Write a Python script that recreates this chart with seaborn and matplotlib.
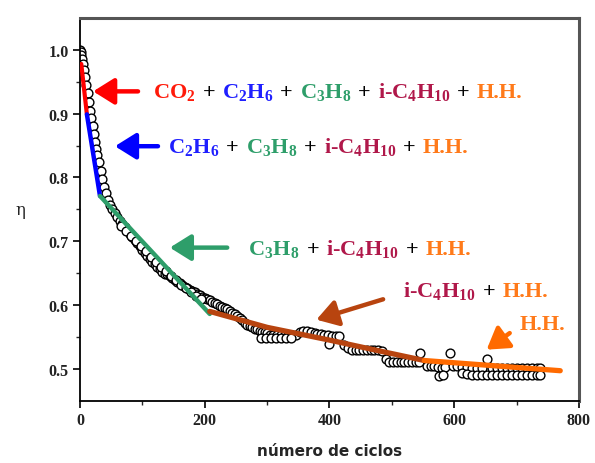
import numpy as np
import pandas as pd
import matplotlib
matplotlib.use("Agg")
import matplotlib.pyplot as plt
import seaborn as sns
from matplotlib.offsetbox import TextArea, HPacker, AnnotationBbox

# ---------------- data ----------------
cycles = [0, 1, 2, 3, 4, 6, 8, 10, 12, 14, 16, 18, 20, 22, 24, 26, 28, 30, 33, 36, 39, 42, 45, 48,
          52, 56, 60, 64, 68, 72, 76, 80, 84, 88, 92, 96, 100, 104, 108, 112, 116, 120, 124, 128,
          132, 136, 140, 144, 148, 152, 156, 160, 164, 168, 172, 176, 180, 184, 188, 192, 196, 200,
          204, 208, 212, 216, 220, 224, 228, 232, 236, 240, 244, 248, 252, 256, 260, 264, 268, 272,
          276, 280, 284, 288, 292, 296, 300, 304, 310, 316, 322, 328, 334, 340, 346,
          290, 298, 306, 314, 322, 330, 338, 352, 358, 364, 370, 376,
          380, 386, 392, 398, 404, 410, 416, 400, 424, 430, 436, 442, 448, 454, 460, 466, 472, 478,
          484, 490, 496, 502, 508, 514, 520, 526, 532, 538, 544, 545,
          556, 562, 568, 574, 580, 586, 598, 604, 612, 620, 628, 636, 644, 660, 668, 676, 684, 692,
          700, 708, 716, 724, 732, 738,
          576, 582, 612, 620, 628, 636, 644, 652, 660, 668, 676, 684, 692, 700, 708, 716, 724, 732, 738,
          593, 652,
          66, 74, 82, 90, 98, 106, 114, 122, 130, 138, 146, 154, 162, 170, 178, 186, 194]
eta = [1.000, 0.997, 0.992, 0.985, 0.978, 0.968, 0.958, 0.945, 0.932, 0.918, 0.905, 0.893, 0.880,
       0.868, 0.856, 0.845, 0.835, 0.825, 0.810, 0.797, 0.785, 0.775, 0.765, 0.757,
       0.750, 0.744, 0.738, 0.732, 0.727, 0.722, 0.717, 0.712, 0.707, 0.702, 0.697, 0.692, 0.687,
       0.682, 0.677, 0.672, 0.668, 0.664, 0.660, 0.656, 0.652, 0.648, 0.648, 0.645, 0.642, 0.639,
       0.636, 0.634, 0.631, 0.629, 0.626, 0.624, 0.622, 0.620, 0.618, 0.616, 0.613, 0.611,
       0.610, 0.608, 0.605, 0.603, 0.601, 0.599, 0.597, 0.595, 0.593, 0.591, 0.588, 0.586, 0.583,
       0.580, 0.576, 0.572, 0.569, 0.567, 0.565, 0.563, 0.562, 0.560, 0.558, 0.557, 0.556,
       0.553, 0.553, 0.553, 0.553, 0.553, 0.553, 0.553, 0.553,
       0.548, 0.548, 0.548, 0.548, 0.548, 0.548, 0.548, 0.557, 0.560, 0.560, 0.558, 0.556,
       0.554, 0.554, 0.553, 0.553, 0.552, 0.552, 0.551, 0.539, 0.538, 0.532, 0.530, 0.530, 0.530,
       0.530, 0.530, 0.530, 0.530, 0.530, 0.528, 0.515, 0.511, 0.510, 0.510, 0.510, 0.510, 0.510,
       0.510, 0.510, 0.510, 0.524,
       0.505, 0.504, 0.504, 0.503, 0.502, 0.503, 0.504, 0.504, 0.503, 0.503, 0.502, 0.502, 0.502,
       0.502, 0.501, 0.501, 0.501, 0.501, 0.501, 0.501, 0.501, 0.501, 0.501, 0.501,
       0.489, 0.491, 0.493, 0.492, 0.491, 0.491, 0.491, 0.491, 0.491, 0.491, 0.491, 0.491, 0.491,
       0.491, 0.491, 0.491, 0.491, 0.491, 0.491,
       0.525, 0.515,
       0.724, 0.716, 0.708, 0.700, 0.692, 0.684, 0.676, 0.668, 0.660, 0.653, 0.646, 0.639, 0.632,
       0.626, 0.620, 0.614, 0.609]

# fitted segments
seg_red_x = [2, 11]
seg_red_y = [0.978, 0.899]
seg_blue_x = [11, 32]
seg_blue_y = [0.899, 0.771]
seg_green_x = [32, 208]
seg_green_y = [0.771, 0.586]
seg_brown_x = [208, 300, 400, 480, 552]
seg_brown_y = [0.590, 0.565, 0.545, 0.528, 0.513]
seg_orange_x = [552, 770]
seg_orange_y = [0.513, 0.497]

x_ticks = [0, 200, 400, 600, 800]
y_ticks = [0.5, 0.6, 0.7, 0.8, 0.9, 1.0]

# ---------------- style ----------------
sns.set_style("ticks")
plt.rcParams["font.family"] = ["Liberation Serif", "DejaVu Serif"]
plt.rcParams["mathtext.fontset"] = "custom"
plt.rcParams["mathtext.rm"] = "Liberation Serif:bold"
plt.rcParams["mathtext.it"] = "Liberation Serif:bold"
plt.rcParams["mathtext.bf"] = "Liberation Serif:bold"

RED = "#ff1a0a"
BLUE = "#1f1fff"
GREEN = "#2e9e6a"
CRIMSON = "#b0184a"
ORANGE = "#ff7a1a"
BROWN = "#b8440f"
ORANGE_LINE = "#ff6a00"

fig = plt.figure(figsize=(5.95, 4.64), dpi=100)
ax = fig.add_axes([0.1345, 0.1343, 0.973 - 0.1345, 0.959 - 0.1343])

df = pd.DataFrame({"cycles": cycles, "eta": eta})
sns.scatterplot(data=df, x="cycles", y="eta", ax=ax, marker="o", s=40,
                facecolor="white", edgecolor="black", linewidth=1.0, zorder=2, legend=False)

for xs, ys, c, lw in [(seg_red_x, seg_red_y, "#ff0000", 3.0),
                      (seg_blue_x, seg_blue_y, "#0000ff", 3.2),
                      (seg_green_x, seg_green_y, GREEN, 3.2),
                      (seg_brown_x, seg_brown_y, BROWN, 3.8),
                      (seg_orange_x, seg_orange_y, ORANGE_LINE, 3.8)]:
    sns.lineplot(x=xs, y=ys, ax=ax, color=c, linewidth=lw, zorder=3, sort=False,
                 estimator=None, legend=False)

ax.set_xlim(0, 800)
ax.set_ylim(0.45, 1.05)
ax.set_xticks(x_ticks)
ax.set_xticklabels([str(t) for t in x_ticks])
ax.set_yticks(y_ticks)
ax.set_yticklabels([f"{t:.1f}" for t in y_ticks])
ax.set_xticks([100, 300, 500, 700], minor=True)
ax.set_yticks([0.55, 0.65, 0.75, 0.85, 0.95], minor=True)
ax.tick_params(axis="both", which="major", direction="out", length=5, width=1.2,
               labelsize=11.5, pad=3, colors="black")
ax.tick_params(axis="both", which="minor", direction="out", length=3, width=1.0)
for lab in ax.get_xticklabels() + ax.get_yticklabels():
    lab.set_fontweight("bold")
    lab.set_color("#222222")

for side in ["left", "bottom"]:
    ax.spines[side].set_color("black")
    ax.spines[side].set_linewidth(1.3)
for side in ["top", "right"]:
    ax.spines[side].set_visible(True)
    ax.spines[side].set_color("#555555")
    ax.spines[side].set_linewidth(2.2)

ax.set_xlabel("número de ciclos", family="DejaVu Sans", fontweight="bold", fontsize=11,
              labelpad=11)
ax.set_ylabel("η", family="DejaVu Serif", fontsize=12, rotation=0, va="center")
ax.yaxis.set_label_coords(-0.12, 0.5)

# ---------------- annotations ----------------
FS = 16

def colored_line(parts, xy):
    areas = []
    for txt, col in parts:
        areas.append(TextArea(txt, textprops=dict(color=col, fontsize=FS, fontweight="bold",
                                                  family="Liberation Serif")))
    box = HPacker(children=areas, align="baseline", pad=0, sep=5)
    ab = AnnotationBbox(box, xy, xycoords="data", box_alignment=(0, 0.5), frameon=False,
                        pad=0, zorder=5)
    ax.add_artist(ab)

P = ("+", "black")
colored_line([("CO$_2$", RED), P, ("C$_2$H$_6$", BLUE), P, ("C$_3$H$_8$", GREEN), P,
              ("i-C$_4$H$_{10}$", CRIMSON), P, ("H.H.", ORANGE)], (117, 0.935))
colored_line([("C$_2$H$_6$", BLUE), P, ("C$_3$H$_8$", GREEN), P,
              ("i-C$_4$H$_{10}$", CRIMSON), P, ("H.H.", ORANGE)], (141, 0.849))
colored_line([("C$_3$H$_8$", GREEN), P, ("i-C$_4$H$_{10}$", CRIMSON), P, ("H.H.", ORANGE)],
             (270, 0.690))
colored_line([("i-C$_4$H$_{10}$", CRIMSON), P, ("H.H.", ORANGE)], (518, 0.624))
colored_line([("H.H.", ORANGE)], (705, 0.570))

def arrow(tail, head, col):
    ax.annotate("", xy=head, xytext=tail, xycoords="data",
                arrowprops=dict(arrowstyle="-|>,head_length=0.8,head_width=0.5",
                                color=col, lw=3.2, shrinkA=0, shrinkB=0,
                                mutation_scale=16), zorder=5)

arrow((93, 0.935), (21, 0.935), "#ff0000")
arrow((125, 0.849), (56, 0.849), "#0000ff")
arrow((236, 0.690), (144, 0.690), GREEN)
arrow((486, 0.609), (379, 0.577), BROWN)
arrow((689, 0.556), (652, 0.530), ORANGE_LINE)

fig.savefig("out.png", dpi=100)
